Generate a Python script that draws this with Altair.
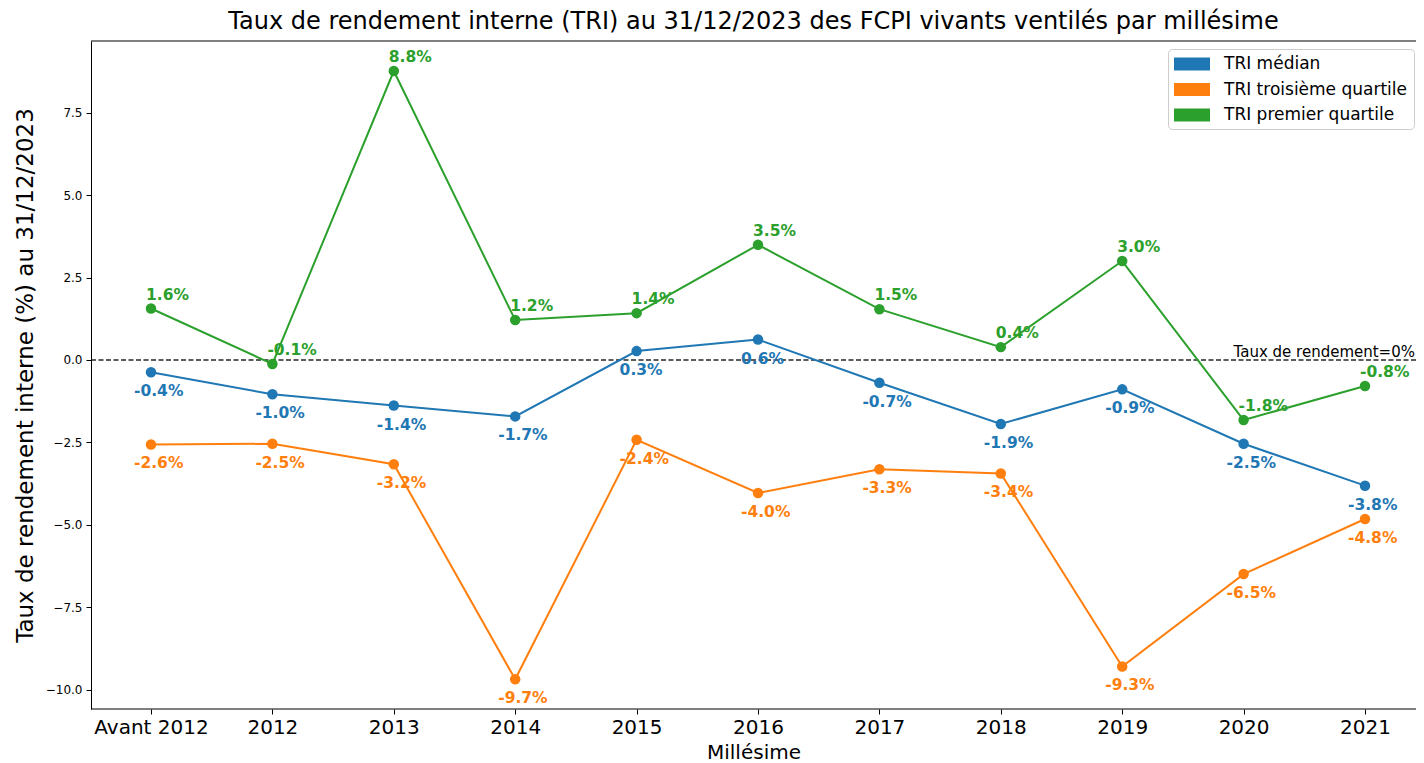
import altair as alt
import pandas as pd

categories = ["Avant 2012", "2012", "2013", "2014", "2015", "2016", "2017", "2018", "2019", "2020", "2021"]
tri_median = [-0.37, -1.04, -1.38, -1.71, 0.27, 0.62, -0.69, -1.94, -0.89, -2.54, -3.81]
tri_q3 = [-2.56, -2.54, -3.16, -9.68, -2.42, -4.03, -3.31, -3.44, -9.29, -6.49, -4.82]
tri_q1 = [1.56, -0.12, 8.76, 1.21, 1.42, 3.49, 1.54, 0.39, 3.0, -1.82, -0.79]
series_names = ["TRI médian", "TRI troisième quartile", "TRI premier quartile"]
colors = ["#1f77b4", "#ff7f0e", "#2ca02c"]
y_ticks = [-10.0, -7.5, -5.0, -2.5, 0.0, 2.5, 5.0, 7.5]

rows = []
for name, vals in zip(series_names, [tri_median, tri_q3, tri_q1]):
    for c, v in zip(categories, vals):
        rows.append({"cat": c, "v": v, "serie": name})
df = pd.DataFrame(rows)
one = pd.DataFrame({"z": [0]})

FONT = "DejaVu Sans"
W, H = 1325, 668

x_enc = alt.X(
    "cat:N",
    sort=categories,
    scale=alt.Scale(type="point", domain=categories, range=[60, 1274], padding=0),
    axis=alt.Axis(
        title="Millésime", labelAngle=0, labelFontSize=20, titleFontSize=20,
        labelPadding=3, tickSize=5, titleY=49, titleBaseline="alphabetic",
        titleFontWeight="normal", domain=False, titleX=W / 2,
    ),
)
y_enc = alt.Y(
    "v:Q",
    scale=alt.Scale(domain=[-10.58, 9.67], nice=False, zero=False),
    axis=alt.Axis(
        title="Taux de rendement interne (%) au 31/12/2023",
        values=y_ticks, labelFontSize=12, titleFontSize=23, tickSize=5,
        labelPadding=4, titleX=-66, titleBaseline="middle", titleFontWeight="normal",
        labelExpr="replace(format(datum.value, '.1f'), '-', '\u2212')",
    ),
)
legend = alt.Legend(
    title=None, orient="none", legendX=1077, legendY=8,
    symbolType="M-2,-0.72H2V0.72H-2Z", symbolSize=324, symbolOffset=9,
    symbolStrokeWidth=0, symbolOpacity=1,
    labelFontSize=17, labelFont=FONT, labelOffset=23, rowPadding=8.5, labelLimit=400,
    padding=6, fillColor="white", strokeColor="#cccccc", cornerRadius=4,
    labelColor="black",
)
color_enc = alt.Color("serie:N", scale=alt.Scale(domain=series_names, range=colors), legend=legend)

base = alt.Chart(df)

top_line = alt.Chart(one).mark_rule(color="black", strokeWidth=1).encode(
    x=alt.value(0), x2=alt.value(W), y=alt.value(0)
)
bottom_line = alt.Chart(one).mark_rule(color="black", strokeWidth=1).encode(
    x=alt.value(0), x2=alt.value(W), y=alt.value(H)
)
zero_rule = alt.Chart(one).mark_rule(color="black", opacity=0.85, strokeDash=[5, 2.5], strokeWidth=1.3).encode(
    y=alt.datum(0)
)
zero_text = alt.Chart(one).mark_text(
    text="Taux de rendement=0%", align="right", baseline="alphabetic", dy=-3,
    fontSize=15, font=FONT, color="black"
).encode(x=alt.value(W - 1), y=alt.datum(0))

lines = base.mark_line(strokeWidth=2).encode(x=x_enc, y=y_enc, color=color_enc, detail="serie:N")
points = base.mark_point(filled=True, size=110, opacity=1).encode(x=x_enc, y=y_enc, color=color_enc)

lbl_expr = "replace(format(datum.v, '.1f'), '\u2212', '-') + '%'"
labels_green = base.transform_filter(alt.datum.serie == "TRI premier quartile").transform_calculate(
    lbl=lbl_expr
).mark_text(align="left", baseline="middle", dx=-5, dy=-14, fontSize=15.5, fontWeight="bold", font=FONT).encode(
    x=x_enc, y=y_enc, text="lbl:N", color=color_enc
)
labels_other = base.transform_filter(alt.datum.serie != "TRI premier quartile").transform_calculate(
    lbl=lbl_expr
).mark_text(align="left", baseline="middle", dx=-17, dy=19, fontSize=15.5, fontWeight="bold", font=FONT).encode(
    x=x_enc, y=y_enc, text="lbl:N", color=color_enc
)

chart = alt.layer(top_line, bottom_line, zero_rule, zero_text, lines, points, labels_green, labels_other).properties(
    width=W, height=H,
    title=alt.TitleParams(
        "Taux de rendement interne (TRI) au 31/12/2023 des FCPI vivants ventilés par millésime",
        fontSize=24, font=FONT, fontWeight="normal", anchor="middle", offset=7, color="black",
    ),
    autosize=alt.AutoSizeParams(type="none"),
    padding={"left": 83, "top": 33, "right": 0, "bottom": 54},
).configure_view(
    stroke=None
).configure_axis(
    grid=False, domainColor="black", tickColor="black", labelColor="black", titleColor="black",
    labelFont=FONT, titleFont=FONT, domainWidth=1,
).configure_text(font=FONT)

chart.save("out.html", embed_options={"renderer": "svg", "actions": False})
